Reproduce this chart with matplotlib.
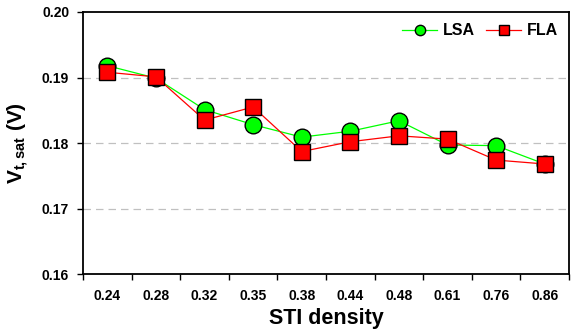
import matplotlib
matplotlib.use('Agg')
import matplotlib.pyplot as plt
import numpy as np

plt.rcParams['font.family'] = ['Liberation Sans', 'DejaVu Sans']
plt.rcParams['font.weight'] = 'bold'
plt.rcParams['mathtext.fontset'] = 'custom'
plt.rcParams['mathtext.rm'] = 'Liberation Sans:bold'
plt.rcParams['mathtext.bf'] = 'Liberation Sans:bold'
plt.rcParams['mathtext.it'] = 'Liberation Sans:bold'

categories = ['0.24', '0.28', '0.32', '0.35', '0.38', '0.44', '0.48', '0.61', '0.76', '0.86']
lsa = [0.1918, 0.1899, 0.1851, 0.1828, 0.1809, 0.1818, 0.1834, 0.1797, 0.1796, 0.1768]
fla = [0.1908, 0.1901, 0.1835, 0.1855, 0.1787, 0.1802, 0.1811, 0.1806, 0.1774, 0.1768]

fig = plt.figure(figsize=(5.73, 3.33), dpi=100)
ax = fig.add_axes([0.145, 0.177, 0.848, 0.787])

x = np.arange(len(categories))
ax.plot(x, lsa, color='#00ff00', lw=0.9, marker='o', ms=12, mfc='#00ff00',
        mec='black', mew=1.0, label='LSA', zorder=3)
ax.plot(x, fla, color='red', lw=0.9, marker='s', ms=11, mfc='red',
        mec='black', mew=1.0, label='FLA', zorder=4)

ax.set_xlim(-0.5, len(categories) - 0.5)
ax.set_ylim(0.16, 0.20)
ax.set_yticks([0.16, 0.17, 0.18, 0.19, 0.20])
ax.set_yticklabels(['0.16', '0.17', '0.18', '0.19', '0.20'], fontsize=10, fontweight='bold')
for yv in [0.17, 0.18, 0.19]:
    ax.axhline(yv, color='#c0c0c0', lw=0.9, ls=(0, (6, 4)), zorder=1)

# category labels between boundary ticks
ax.set_xticks(np.arange(len(categories) + 1) - 0.5)
ax.set_xticklabels([])
ax.set_xticks(x, minor=True)
ax.set_xticklabels(categories, minor=True, fontsize=10, fontweight='bold')
ax.tick_params(axis='x', which='minor', length=0, pad=11)
ax.tick_params(axis='x', which='major', length=4, width=1, direction='out')
ax.tick_params(axis='y', length=4, width=1, direction='out', pad=6)

for s in ax.spines.values():
    s.set_linewidth(1.3)

ax.set_xlabel('STI density', fontsize=15.5, fontweight='bold', labelpad=3)
ax.set_ylabel(r'V$_{\mathregular{t,sat}}$ (V)', fontsize=15, fontweight='bold', labelpad=8)

leg = ax.legend(loc='upper right', ncol=2, frameon=False, fontsize=11.5,
                markerscale=0.62, handlelength=2.2, columnspacing=0.7,
                handletextpad=0.35, borderaxespad=0.3)
for t in leg.get_texts():
    t.set_fontweight('bold')

fig.savefig('out.png', dpi=100)
